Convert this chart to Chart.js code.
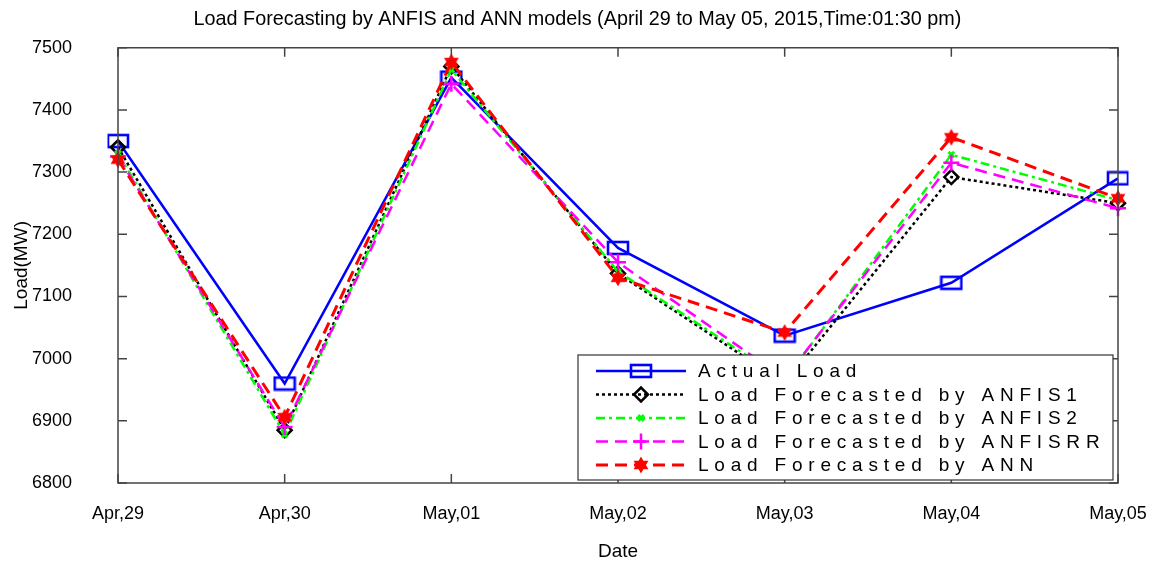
<!DOCTYPE html>
<html>
<head>
<meta charset="utf-8">
<script src="https://cdn.jsdelivr.net/npm/chart.js@4/dist/chart.umd.min.js"></script>
<style>
  html, body { margin: 0; padding: 0; background: #fff; }
  #wrap { width: 1155px; height: 562px; }
</style>
</head>
<body>
<div id="wrap"><canvas id="loadChart"></canvas></div>
<script>
// ── Data ──────────────────────────────────────────────────────
const dates   = ['Apr,29', 'Apr,30', 'May,01', 'May,02', 'May,03', 'May,04', 'May,05'];
const actual  = [7350, 6960, 7452, 7178, 7037, 7122, 7290];
const anfis1  = [7340, 6885, 7470, 7137, 6960, 7292, 7250];
const anfis2  = [7330, 6878, 7465, 7140, 6965, 7328, 7255];
const anfisRR = [7325, 6890, 7442, 7155, 6968, 7315, 7242];
const ann     = [7320, 6906, 7477, 7130, 7042, 7356, 7258];
const yTicks  = [6800, 6900, 7000, 7100, 7200, 7300, 7400, 7500];

const FONT = "'Liberation Sans', Arial, sans-serif";

// ── Marker images ─────────────────────────────────────────────
function rectMarker() {
    const c = document.createElement('canvas');
    c.width = 24; c.height = 16;
    const g = c.getContext('2d');
    g.strokeStyle = '#0000ff';
    g.lineWidth = 2.6;
    g.strokeRect(2, 2, 20, 12);
    return c;
}

function starMarker() {
    const c = document.createElement('canvas');
    c.width = 18; c.height = 18;
    const g = c.getContext('2d');
    g.fillStyle = '#ff0000';
    g.strokeStyle = '#ff0000';
    g.lineWidth = 1.5;
    g.beginPath();
    for (let i = 0; i < 12; i++) {
        const r = i % 2 === 0 ? 7 : 4;
        const a = -Math.PI / 2 + i * Math.PI / 6;
        const px = 9 + r * Math.cos(a), py = 9 + r * Math.sin(a);
        i === 0 ? g.moveTo(px, py) : g.lineTo(px, py);
    }
    g.closePath();
    g.fill();
    g.stroke();
    return c;
}

// ── Frame, inward ticks and inset legend ──────────────────────
const framePlugin = {
    id: 'frame',
    afterDatasetsDraw(chart) {
        const { ctx, chartArea: a, scales } = chart;
        const tl = 9;
        ctx.save();
        ctx.strokeStyle = '#444';
        ctx.lineWidth = 1.5;
        ctx.strokeRect(a.left, a.top, a.right - a.left, a.bottom - a.top);
        ctx.beginPath();
        yTicks.forEach(v => {
            const y = scales.y.getPixelForValue(v);
            ctx.moveTo(a.left, y);  ctx.lineTo(a.left + tl, y);
            ctx.moveTo(a.right, y); ctx.lineTo(a.right - tl, y);
        });
        dates.forEach((d, i) => {
            const x = scales.x.getPixelForValue(i);
            ctx.moveTo(x, a.bottom); ctx.lineTo(x, a.bottom - tl);
            ctx.moveTo(x, a.top);    ctx.lineTo(x, a.top + tl);
        });
        ctx.stroke();

        // legend box
        const bx = 578, by = 355, bw = 535, bh = 125;
        ctx.fillStyle = '#fff';
        ctx.fillRect(bx, by, bw, bh);
        ctx.strokeStyle = '#333';
        ctx.lineWidth = 1.2;
        ctx.strokeRect(bx, by, bw, bh);

        const rowY0 = 371, rowGap = 23.5;
        chart.data.datasets.forEach((ds, i) => {
            const y = rowY0 + i * rowGap;
            ctx.save();
            ctx.strokeStyle = ds.borderColor;
            ctx.lineWidth = ds.borderWidth;
            ctx.setLineDash(ds.borderDash || []);
            ctx.beginPath();
            ctx.moveTo(596, y);
            ctx.lineTo(686, y);
            ctx.stroke();
            ctx.setLineDash([]);
            ctx.strokeStyle = ds.pointBorderColor;
            ctx.fillStyle = ds.pointBackgroundColor;
            ctx.lineWidth = ds.pointBorderWidth;
            Chart.helpers.drawPoint(ctx, {
                pointStyle: ds.pointStyle, radius: ds.pointRadius,
                borderWidth: ds.pointBorderWidth, rotation: 0
            }, 641, y);
            ctx.restore();

            ctx.fillStyle = '#000';
            ctx.font = '19px ' + FONT;
            ctx.letterSpacing = '5.8px';
            ctx.textBaseline = 'middle';
            ctx.textAlign = 'left';
            ctx.fillText(ds.label, 698, y + 1);
        });
        ctx.restore();
    }
};

document.addEventListener('DOMContentLoaded', () => {
    const canvas = document.getElementById('loadChart');

    new Chart(canvas.getContext('2d'), {
        type: 'line',
        data: {
            labels: dates,
            datasets: [
                {
                    label: 'Actual Load',
                    data: actual,
                    borderColor: '#0000ff',
                    borderWidth: 2.5,
                    borderDash: [],
                    pointStyle: rectMarker(),
                    pointRadius: 8,
                    pointBorderColor: '#0000ff',
                    pointBackgroundColor: 'transparent',
                    pointBorderWidth: 2.5,
                    order: 4
                },
                {
                    label: 'Load Forecasted by ANFIS1',
                    data: anfis1,
                    borderColor: '#000000',
                    borderWidth: 2.5,
                    borderDash: [3, 3],
                    pointStyle: 'rectRot',
                    pointRadius: 7,
                    pointBorderColor: '#000000',
                    pointBackgroundColor: 'transparent',
                    pointBorderWidth: 2.5,
                    order: 3
                },
                {
                    label: 'Load Forecasted by ANFIS2',
                    data: anfis2,
                    borderColor: '#00ff00',
                    borderWidth: 2.5,
                    borderDash: [9, 4, 3, 4],
                    pointStyle: 'crossRot',
                    pointRadius: 4,
                    pointBorderColor: '#00ff00',
                    pointBackgroundColor: '#00ff00',
                    pointBorderWidth: 3,
                    order: 2
                },
                {
                    label: 'Load Forecasted by ANFISRR',
                    data: anfisRR,
                    borderColor: '#ff00ff',
                    borderWidth: 2.5,
                    borderDash: [12, 7],
                    pointStyle: 'cross',
                    pointRadius: 8,
                    pointBorderColor: '#ff00ff',
                    pointBackgroundColor: '#ff00ff',
                    pointBorderWidth: 2.5,
                    order: 1
                },
                {
                    label: 'Load Forecasted by ANN',
                    data: ann,
                    borderColor: '#ff0000',
                    borderWidth: 3,
                    borderDash: [12, 7],
                    pointStyle: starMarker(),
                    pointRadius: 7,
                    pointBorderColor: '#ff0000',
                    pointBackgroundColor: '#ff0000',
                    pointBorderWidth: 2,
                    order: 0
                }
            ]
        },
        options: {
            responsive: true,
            maintainAspectRatio: false,
            animation: false,
            layout: { padding: 0 },
            plugins: {
                legend: { display: false },
                tooltip: { enabled: false },
                title: {
                    display: true,
                    text: 'Load Forecasting by ANFIS and ANN models (April 29 to May 05, 2015,Time:01:30 pm)',
                    color: '#000',
                    font: { family: FONT, size: 19.8, weight: 'normal', lineHeight: 1.2 },
                    padding: { top: 8, bottom: 16 }
                }
            },
            scales: {
                x: {
                    offset: false,
                    grid: { display: false, drawTicks: false },
                    border: { display: false },
                    ticks: { color: '#000', padding: 20, maxRotation: 0, font: { family: FONT, size: 18 } },
                    title: {
                        display: true, text: 'Date', color: '#000',
                        font: { family: FONT, size: 19, lineHeight: 1 },
                        padding: { top: 0, bottom: 1 }
                    },
                    afterFit: s => {
                        s.height = 79;
                        s.paddingLeft = 0;
                        s.paddingRight = 37;
                    }
                },
                y: {
                    min: 6800,
                    max: 7500,
                    grid: { display: false, drawTicks: false },
                    border: { display: false },
                    ticks: {
                        color: '#000', padding: 46, stepSize: 100,
                        font: { family: FONT, size: 18 },
                        callback: v => String(v)
                    },
                    title: {
                        display: true, text: 'Load(MW)', color: '#000',
                        font: { family: FONT, size: 19, lineHeight: 1.2 },
                        padding: { top: 10, bottom: 4 }
                    },
                    afterFit: s => {
                        s.width = 118;
                        s.paddingTop = 0;
                        s.paddingBottom = 0;
                    }
                }
            }
        },
        plugins: [framePlugin]
    });
});
</script>
</body>
</html>
